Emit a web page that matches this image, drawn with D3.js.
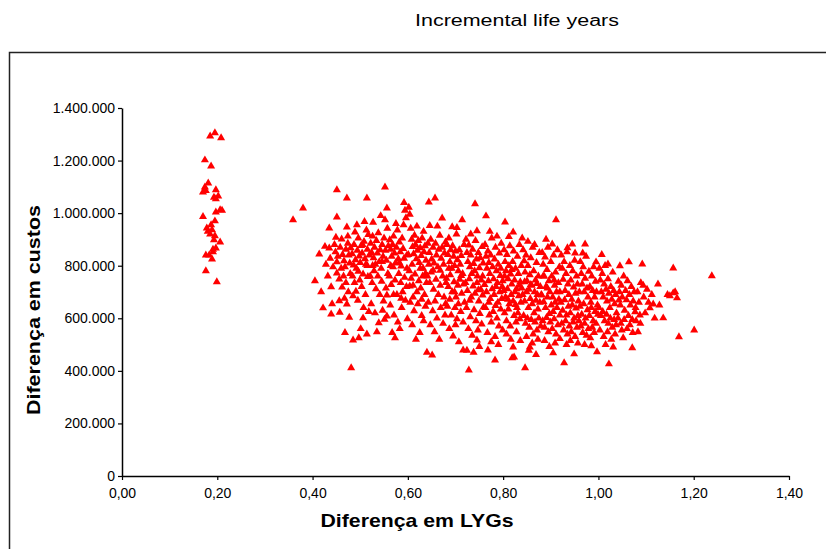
<!DOCTYPE html>
<html lang="pt">
<head>
<meta charset="UTF-8">
<title>Incremental life years</title>
<script src="https://d3js.org/d3.v7.min.js"></script>
<style>
  body { margin: 0; background: #fff; }
  text { font-family: "Liberation Sans", Arial, sans-serif; fill: #000; }
  .tick text { font-size: 14px; }
  .axis-title { font-size: 19px; font-weight: bold; }
</style>
</head>
<body>
<svg id="chart" width="826" height="549"></svg>
<script>
// eixos
const xTicks = [0, 0.2, 0.4, 0.6, 0.8, 1.0, 1.2, 1.4];
const xTickLabels = ["0,00", "0,20", "0,40", "0,60", "0,80", "1,00", "1,20", "1,40"];
const yTicks = [0, 200, 400, 600, 800, 1000, 1200, 1400]; // milhares
const yTickLabels = ["0", "200.000", "400.000", "600.000", "800.000", "1.000.000", "1.200.000", "1.400.000"];

// [diferença em LYGs, diferença em custos (milhares)]
const grupoEsquerda = [
  [0.185,1293],[0.195,1305],[0.208,1286],[0.174,1202],[0.187,1179],[0.181,1114],[0.174,1099],
  [0.170,1080],[0.176,1085],[0.197,1088],[0.202,1065],[0.193,1060],[0.197,1054],[0.197,1004],
  [0.206,1012],[0.210,1010],[0.170,987],[0.195,970],[0.178,943],[0.189,936],[0.185,920],
  [0.195,913],[0.193,898],[0.206,890],[0.197,867],[0.191,852],[0.183,840],[0.176,840],
  [0.189,825],[0.176,780],[0.191,862],[0.199,738],[0.180,930],[0.187,955]
];

const nuvem = [
  // 0.36 - 0.44
  [0.359,974],[0.380,1019],[0.405,742],[0.414,844],[0.422,639],[0.435,867],[0.435,943],[0.439,616],
  [0.439,719],[0.428,805],[0.418,700],[0.432,760],[0.441,655],[0.426,873],[0.437,828],
  // 0.44 - 0.48
  [0.451,1088],[0.451,985],[0.451,814],[0.451,772],[0.456,749],[0.456,666],[0.472,654],[0.472,947],
  [0.472,1057],[0.481,411],[0.446,880],[0.448,852],[0.453,835],[0.458,870],[0.461,901],[0.463,842],
  [0.466,818],[0.468,795],[0.470,862],[0.474,885],[0.476,840],[0.478,810],[0.460,790],[0.465,760],
  [0.470,735],[0.475,700],[0.479,770],[0.443,795],[0.457,622],[0.462,718],[0.467,676],[0.477,603],
  [0.474,912],[0.449,908],[0.480,868],[0.468,545],
  // 0.48 - 0.52
  [0.485,685],[0.485,517],[0.489,928],[0.497,525],[0.506,601],[0.514,540],[0.514,1057],[0.483,845],
  [0.487,880],[0.490,822],[0.492,790],[0.494,858],[0.496,905],[0.498,836],[0.500,812],[0.502,876],
  [0.504,848],[0.506,768],[0.508,892],[0.510,826],[0.512,805],[0.515,862],[0.517,918],[0.519,840],
  [0.484,760],[0.488,735],[0.491,702],[0.495,668],[0.499,745],[0.503,720],[0.507,640],[0.511,690],
  [0.516,758],[0.518,625],[0.493,955],[0.509,968],[0.501,560],[0.513,935],[0.486,802],[0.496,778],
  [0.505,880],[0.515,800],
  // 0.52 - 0.56
  [0.552,1099],[0.556,1019],[0.552,974],[0.556,608],[0.522,885],[0.524,850],[0.526,912],[0.528,830],
  [0.530,870],[0.532,805],[0.534,895],[0.536,848],[0.538,925],[0.540,815],[0.542,860],[0.544,790],
  [0.546,880],[0.548,835],[0.550,905],[0.553,858],[0.555,820],[0.557,942],[0.559,875],[0.521,760],
  [0.525,735],[0.529,780],[0.533,712],[0.537,760],[0.541,690],[0.545,740],[0.549,665],[0.554,715],
  [0.558,770],[0.523,655],[0.531,620],[0.539,582],[0.547,630],[0.527,965],[0.543,990],[0.535,548],
  [0.551,596],[0.526,800],[0.546,815],[0.556,688],
  // 0.56 - 0.60
  [0.573,525],[0.562,898],[0.564,862],[0.566,835],[0.568,880],[0.570,912],[0.572,848],[0.574,810],
  [0.576,870],[0.578,935],[0.580,826],[0.582,890],[0.584,852],[0.586,798],[0.588,905],[0.590,865],
  [0.592,1040],[0.594,1010],[0.596,982],[0.598,840],[0.561,760],[0.565,728],[0.569,795],[0.573,745],
  [0.577,690],[0.581,770],[0.585,735],[0.589,700],[0.593,755],[0.597,720],[0.563,650],[0.571,612],
  [0.579,585],[0.587,640],[0.595,668],[0.567,545],[0.583,560],[0.599,598],[0.575,960],[0.591,955],
  [0.570,690],[0.586,676],[0.598,790],[0.564,800],[0.582,812],[0.592,828],
  // 0.60 - 0.64
  [0.602,1022],[0.604,995],[0.606,942],[0.608,900],[0.610,872],[0.612,845],[0.614,915],[0.616,880],
  [0.618,826],[0.620,858],[0.622,895],[0.624,812],[0.626,868],[0.628,838],[0.630,905],[0.632,790],
  [0.634,852],[0.636,875],[0.638,820],[0.603,780],[0.607,752],[0.611,725],[0.615,768],[0.619,700],
  [0.623,742],[0.627,715],[0.631,760],[0.635,690],[0.639,735],[0.605,660],[0.613,628],[0.621,655],
  [0.629,610],[0.637,645],[0.609,575],[0.625,545],[0.633,590],[0.617,520],[0.640,470],[0.601,842],
  [0.609,805],[0.626,790],[0.619,950],[0.633,930],[0.611,680],[0.629,672],[0.637,770],[0.604,722],
  // 0.64 - 0.68
  [0.644,1042],[0.657,1057],[0.651,460],[0.672,981],[0.642,885],[0.645,850],[0.648,900],[0.650,825],
  [0.653,870],[0.655,810],[0.658,885],[0.660,840],[0.663,795],[0.665,862],[0.667,915],[0.670,828],
  [0.672,870],[0.675,805],[0.677,848],[0.679,890],[0.641,760],[0.646,735],[0.649,775],[0.654,710],
  [0.659,748],[0.664,690],[0.668,725],[0.673,760],[0.676,680],[0.680,735],[0.643,660],[0.652,628],
  [0.661,600],[0.669,640],[0.678,612],[0.647,575],[0.656,548],[0.666,520],[0.674,580],[0.662,950],
  [0.646,952],[0.653,782],[0.668,782],[0.679,655],[0.657,665],[0.644,805],
  // 0.68 - 0.72
  [0.707,510],[0.714,974],[0.716,479],[0.682,880],[0.684,842],[0.686,905],[0.688,815],[0.690,860],
  [0.692,790],[0.694,875],[0.696,835],[0.698,800],[0.700,855],[0.702,920],[0.704,822],[0.706,780],
  [0.708,860],[0.710,805],[0.712,838],[0.715,770],[0.718,880],[0.681,752],[0.685,720],[0.689,765],
  [0.693,700],[0.697,738],[0.701,680],[0.705,725],[0.709,748],[0.713,695],[0.717,730],[0.719,660],
  [0.683,645],[0.691,612],[0.699,640],[0.703,598],[0.711,625],[0.687,560],[0.695,532],[0.700,575],
  [0.716,585],[0.693,948],[0.703,945],[0.688,672],[0.698,700],[0.706,655],[0.712,762],[0.686,790],
  // 0.72 - 0.76
  [0.728,403],[0.741,1035],[0.745,517],[0.722,900],[0.724,850],[0.726,815],[0.728,878],[0.730,795],
  [0.732,840],[0.734,770],[0.736,862],[0.738,808],[0.740,780],[0.742,895],[0.744,825],[0.746,760],
  [0.748,850],[0.750,792],[0.752,830],[0.754,745],[0.756,872],[0.758,810],[0.721,735],[0.725,705],
  [0.729,750],[0.733,680],[0.737,722],[0.741,695],[0.745,735],[0.749,665],[0.753,710],[0.757,688],
  [0.723,640],[0.731,605],[0.739,632],[0.743,590],[0.751,618],[0.759,642],[0.727,560],[0.735,535],
  [0.747,555],[0.755,578],[0.732,920],[0.745,932],[0.724,478],[0.738,470],[0.750,492],[0.730,668],
  [0.748,708],[0.757,760],
  // 0.76 - 0.80
  [0.764,989],[0.768,479],[0.783,441],[0.762,880],[0.764,835],[0.766,790],[0.768,855],[0.770,812],
  [0.772,770],[0.774,840],[0.776,905],[0.778,795],[0.780,750],[0.782,825],[0.784,870],[0.786,780],
  [0.788,735],[0.790,805],[0.792,848],[0.794,762],[0.796,885],[0.798,720],[0.761,728],[0.765,700],
  [0.769,742],[0.773,675],[0.777,712],[0.781,690],[0.785,720],[0.789,660],[0.793,700],[0.797,675],
  [0.763,640],[0.771,612],[0.775,585],[0.779,625],[0.787,600],[0.791,570],[0.795,635],[0.767,545],
  [0.783,530],[0.799,555],[0.775,510],[0.790,500],[0.772,930],[0.787,912],[0.795,790],[0.770,660],
  [0.784,648],[0.799,742],
  // 0.80 - 0.84
  [0.804,966],[0.819,449],[0.821,928],[0.821,490],[0.823,452],[0.802,860],[0.804,815],[0.806,780],
  [0.808,842],[0.810,750],[0.812,800],[0.814,875],[0.816,768],[0.818,730],[0.820,815],[0.822,855],
  [0.824,745],[0.826,790],[0.828,712],[0.830,835],[0.832,770],[0.834,880],[0.836,738],[0.838,800],
  [0.801,705],[0.805,680],[0.809,712],[0.813,655],[0.817,690],[0.821,665],[0.825,700],[0.829,640],
  [0.833,685],[0.837,660],[0.839,715],[0.803,620],[0.807,590],[0.811,635],[0.815,570],[0.823,610],
  [0.827,585],[0.831,620],[0.835,598],[0.807,540],[0.816,520],[0.828,548],[0.836,515],[0.812,910],
  [0.840,905],[0.826,652],[0.803,760],[0.818,785],[0.834,725],[0.810,672],
  // 0.84 - 0.88
  [0.846,411],[0.856,490],[0.842,860],[0.844,818],[0.846,775],[0.848,840],[0.850,742],[0.852,800],
  [0.854,710],[0.856,765],[0.858,830],[0.860,725],[0.862,870],[0.864,780],[0.866,700],[0.868,745],
  [0.870,812],[0.872,690],[0.874,760],[0.876,850],[0.878,720],[0.841,690],[0.845,665],[0.849,700],
  [0.853,640],[0.857,675],[0.861,655],[0.865,620],[0.869,668],[0.873,635],[0.877,660],[0.843,610],
  [0.847,580],[0.851,600],[0.855,565],[0.859,595],[0.863,540],[0.867,585],[0.871,555],[0.875,600],
  [0.879,570],[0.849,530],[0.861,505],[0.873,520],[0.852,892],[0.866,880],[0.845,738],[0.858,728],
  [0.871,732],[0.880,690],[0.854,478],[0.869,462],
  // 0.88 - 0.92
  [0.911,974],[0.905,468],[0.882,850],[0.884,805],[0.886,760],[0.888,832],[0.890,720],[0.892,785],
  [0.894,870],[0.896,742],[0.898,700],[0.900,815],[0.902,760],[0.904,680],[0.906,840],[0.908,725],
  [0.910,775],[0.912,700],[0.914,860],[0.916,735],[0.918,795],[0.881,688],[0.885,662],[0.889,640],
  [0.893,680],[0.897,618],[0.901,650],[0.905,625],[0.909,660],[0.913,640],[0.917,672],[0.883,590],
  [0.887,565],[0.891,602],[0.895,548],[0.899,585],[0.903,560],[0.907,598],[0.911,540],[0.915,575],
  [0.919,612],[0.887,515],[0.897,492],[0.909,505],[0.919,522],[0.890,900],[0.903,882],[0.893,715],
  [0.907,745],[0.919,700],[0.884,760],
  // 0.92 - 0.96
  [0.928,430],[0.945,882],[0.949,464],[0.922,840],[0.924,790],[0.926,748],[0.928,815],[0.930,705],
  [0.932,770],[0.934,852],[0.936,730],[0.938,690],[0.940,800],[0.942,745],[0.944,672],[0.946,780],
  [0.948,718],[0.950,820],[0.952,695],[0.954,760],[0.956,730],[0.958,665],[0.921,660],[0.925,630],
  [0.929,670],[0.933,612],[0.937,645],[0.941,620],[0.945,650],[0.949,600],[0.953,638],[0.957,610],
  [0.923,580],[0.927,555],[0.931,590],[0.935,540],[0.939,570],[0.943,548],[0.947,585],[0.951,530],
  [0.955,565],[0.959,590],[0.933,500],[0.941,515],[0.957,505],[0.935,868],[0.951,848],[0.960,700],
  // 0.96 - 1.00
  [0.972,882],[0.995,814],[0.997,472],[0.962,815],[0.964,770],[0.966,730],[0.968,795],[0.970,700],
  [0.972,752],[0.974,835],[0.976,715],[0.978,680],[0.980,778],[0.982,720],[0.984,660],[0.986,760],
  [0.988,705],[0.990,795],[0.992,680],[0.994,740],[0.996,700],[0.998,650],[0.961,645],[0.965,615],
  [0.969,655],[0.973,600],[0.977,632],[0.981,610],[0.985,640],[0.989,590],[0.993,625],[0.999,615],
  [0.963,570],[0.967,545],[0.971,580],[0.975,535],[0.979,560],[0.983,525],[0.987,565],[0.991,545],
  [0.995,580],[0.971,500],[0.985,495],[0.967,848],
  // 1.00 - 1.04
  [1.020,806],[1.022,426],[1.002,790],[1.004,745],[1.006,700],[1.008,770],[1.010,680],[1.012,730],
  [1.014,800],[1.016,710],[1.018,665],[1.020,750],[1.022,695],[1.024,640],[1.026,720],[1.028,672],
  [1.030,775],[1.032,705],[1.034,655],[1.036,690],[1.038,620],[1.001,640],[1.005,610],[1.009,625],
  [1.013,590],[1.017,615],[1.021,580],[1.025,600],[1.029,565],[1.033,595],[1.037,575],[1.003,555],
  [1.011,530],[1.019,548],[1.027,520],[1.035,540],[1.015,500],[1.031,490],[1.007,842],
  // 1.04 - 1.08
  [1.045,799],[1.043,669],[1.052,525],[1.064,814],[1.071,487],[1.077,624],[1.042,740],[1.044,700],
  [1.046,650],[1.048,725],[1.050,680],[1.053,760],[1.055,630],[1.057,705],[1.059,670],[1.061,742],
  [1.063,610],[1.065,690],[1.067,650],[1.069,720],[1.071,595],[1.073,665],[1.075,700],[1.078,640],
  [1.041,600],[1.047,580],[1.054,595],[1.060,560],[1.066,575],[1.072,545],[1.079,590],[1.049,555],
  // 1.08 - 1.24
  [1.083,548],[1.087,612],[1.092,806],[1.108,639],[1.115,654],[1.125,730],[1.136,601],[1.150,685],
  [1.157,696],[1.157,791],[1.165,677],[1.169,529],[1.201,555],[1.238,761],[1.082,700],[1.085,660],
  [1.089,735],[1.095,680],[1.098,620],[1.102,710],[1.105,660],[1.112,690],[1.118,600],[1.128,650],
  [1.145,690],[1.161,700],[1.088,580],[1.094,725]
];

const svg = d3.select("#chart");

// moldura da área do gráfico
svg.append("rect")
  .attr("x", 9.5).attr("y", 52.5)
  .attr("width", 840).attr("height", 520)
  .attr("fill", "none").attr("stroke", "#222").attr("stroke-width", 1.5);

svg.append("text")
  .attr("x", 517).attr("y", 26)
  .attr("text-anchor", "middle")
  .attr("textLength", 204).attr("lengthAdjust", "spacingAndGlyphs")
  .style("font-size", "16px")
  .text("Incremental life years");

const x = d3.scaleLinear().domain([0, 1.4]).range([122, 789]);
const y = d3.scaleLinear().domain([0, 1400]).range([476, 108]);

const xAxis = svg.append("g")
  .attr("transform", "translate(0,476)")
  .call(d3.axisBottom(x).tickValues(xTicks).tickSize(4).tickSizeOuter(0)
    .tickFormat((d, i) => xTickLabels[i]));
xAxis.selectAll("text").attr("dy", "1.05em");

const yAxis = svg.append("g")
  .attr("transform", "translate(122,0)")
  .call(d3.axisLeft(y).tickValues(yTicks).tickSize(4).tickSizeOuter(0)
    .tickFormat((d, i) => yTickLabels[i]));

svg.selectAll(".domain").attr("stroke", "#000").attr("stroke-width", 1.5);
svg.selectAll(".tick line").attr("stroke", "#000").attr("stroke-width", 1.2);
svg.selectAll(".tick text").attr("fill", "#111");

svg.append("text")
  .attr("class", "axis-title")
  .attr("x", 417).attr("y", 527)
  .attr("text-anchor", "middle")
  .attr("textLength", 193).attr("lengthAdjust", "spacingAndGlyphs")
  .text("Diferença em LYGs");

svg.append("text")
  .attr("class", "axis-title")
  .attr("transform", "translate(40,310) rotate(-90)")
  .attr("text-anchor", "middle")
  .attr("textLength", 210).attr("lengthAdjust", "spacingAndGlyphs")
  .text("Diferença em custos");

const tri = d3.symbol().type(d3.symbolTriangle).size(28);
svg.append("g").selectAll("path")
  .data(grupoEsquerda.concat(nuvem))
  .join("path")
  .attr("d", tri)
  .attr("transform", d => `translate(${x(d[0])},${y(d[1])})`)
  .attr("fill", "#ff0000");
</script>
</body>
</html>
